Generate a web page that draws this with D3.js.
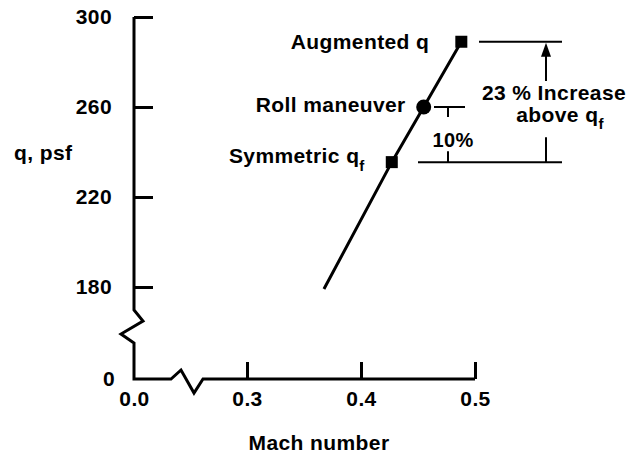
<!DOCTYPE html>
<html lang="en">
<head>
<meta charset="UTF-8">
<script src="https://d3js.org/d3.v7.min.js"></script>
<style>
  body { margin: 0; background: #fff; }
  text { font-family: "Liberation Sans", Arial, sans-serif; font-weight: bold; fill: #000; letter-spacing: 0.4px; }
</style>
</head>
<body>
<div id="chart_area"></div>
<script>
  // curve q vs Mach
  var lineMach = [0.3675, 0.427, 0.455, 0.488];
  var lineQ = [176, 235.5, 260, 289];

  // labelled points
  var pointNames = ["Symmetric q", "Roll maneuver", "Augmented q"];
  var pointMach = [0.427, 0.455, 0.488];
  var pointQ = [235.5, 260, 289];
  var pointShape = ["square", "circle", "square"];

  var xTicks = [0, 0.3, 0.4, 0.5];
  var yTicks = [0, 180, 220, 260, 300];

  var width = 637, height = 456;

  var svg = d3.select("#chart_area").append("svg")
    .attr("width", width).attr("height", height);

  // broken axes: piecewise scales
  var x = d3.scaleLinear().domain([0, 0.3, 0.5]).range([134, 247, 475]);
  var y = d3.scaleLinear().domain([0, 180, 300]).range([379, 287, 17]);

  // y axis ticks + labels
  var yAxis = svg.append("g")
    .attr("transform", "translate(" + x(0) + ",0)")
    .call(d3.axisLeft(y).tickValues(yTicks).tickSizeInner(-19).tickSizeOuter(0).tickPadding(22)
      .tickFormat(d3.format("d")));
  yAxis.select(".domain").remove();
  yAxis.selectAll("line").attr("stroke-width", 3).attr("display", function(d) { return d === 0 ? "none" : null; });
  yAxis.selectAll("text").style("font-size", "21px").attr("font-family", null)
    .attr("x", function(d) { return d === 0 ? -19 : -22; });

  // x axis ticks + labels
  var xAxis = svg.append("g")
    .attr("transform", "translate(0," + y(0) + ")")
    .call(d3.axisBottom(x).tickValues(xTicks).tickSizeInner(-17).tickSizeOuter(0).tickPadding(12)
      .tickFormat(d3.format(".1f")));
  xAxis.select(".domain").remove();
  xAxis.selectAll("line").attr("stroke-width", 3).attr("display", function(d) { return d === 0 ? "none" : null; });
  xAxis.selectAll("text").style("font-size", "21px").attr("font-family", null);

  // axis lines with zigzag breaks
  var x0 = x(0), y0 = y(0), y180 = y(180);
  svg.append("path")
    .attr("d", d3.line()([
      [x0, y(300)], [x0, y180 + 23], [x0 + 9, y180 + 34], [x0 - 13, y180 + 47],
      [x0, y180 + 56], [x0, y0], [x0 + 37, y0], [x0 + 47, y0 - 9], [x0 + 60, y0 + 14],
      [x0 + 69, y0], [x(0.5), y0]
    ]))
    .attr("fill", "none").attr("stroke", "#000").attr("stroke-width", 3)
    .attr("stroke-linejoin", "miter");

  // axis titles
  svg.append("text").attr("x", 14).attr("y", 160).style("font-size", "21px").text("q, psf");
  svg.append("text").attr("x", 319).attr("y", 450).attr("text-anchor", "middle")
    .style("font-size", "21px").text("Mach number");

  // curve
  var curve = d3.line().x(function(d) { return x(d[0]); }).y(function(d) { return y(d[1]); });
  svg.append("path")
    .attr("d", curve(d3.zip(lineMach, lineQ)))
    .attr("fill", "none").attr("stroke", "#000").attr("stroke-width", 3);

  // markers
  var labelDx = [27, 18, 32], labelDy = [1, 5, 7];
  pointMach.forEach(function(m, i) {
    var px = x(m), py = y(pointQ[i]);
    if (pointShape[i] === "square") {
      svg.append("rect").attr("x", px - 6).attr("y", py - 6).attr("width", 12).attr("height", 12).attr("fill", "#000");
    } else {
      svg.append("circle").attr("cx", px).attr("cy", py).attr("r", 7.5).attr("fill", "#000");
    }
    var t = svg.append("text")
      .attr("x", px - labelDx[i])
      .attr("y", py + labelDy[i])
      .attr("text-anchor", "end")
      .style("font-size", "21px");
    t.append("tspan").text(pointNames[i]);
    if (i === 0) {
      t.append("tspan").attr("dy", 8).style("font-size", "15px").text("f");
    }
  });

  // annotation: 23 % increase
  var ySym = y(pointQ[0]), yRoll = y(pointQ[1]), yAug = y(pointQ[2]);
  function seg(x1, y1, x2, y2) {
    svg.append("line").attr("x1", x1).attr("y1", y1).attr("x2", x2).attr("y2", y2)
      .attr("stroke", "#000").attr("stroke-width", 2);
  }
  seg(479, yAug, 562, yAug);
  seg(418, ySym, 562, ySym);
  seg(546, yAug + 10, 546, 81);
  seg(546, ySym - 25, 546, ySym);
  svg.append("path")
    .attr("d", d3.line()([[546, yAug + 1], [541, yAug + 15], [551, yAug + 15]]) + "Z")
    .attr("fill", "#000");
  svg.append("text").attr("x", 554).attr("y", 100).attr("text-anchor", "middle")
    .style("font-size", "21px").text("23 % Increase");
  var t2 = svg.append("text").attr("x", 560).attr("y", 122).attr("text-anchor", "middle")
    .style("font-size", "21px");
  t2.append("tspan").text("above q");
  t2.append("tspan").attr("dy", 7).style("font-size", "15px").text("f");

  // annotation: 10%
  seg(434, yRoll, 465, yRoll);
  seg(448, yRoll, 448, yRoll + 10);
  seg(448, ySym - 11, 448, ySym);
  svg.append("text").attr("x", 453).attr("y", 147).attr("text-anchor", "middle")
    .style("font-size", "20px").text("10%");
</script>
</body>
</html>
